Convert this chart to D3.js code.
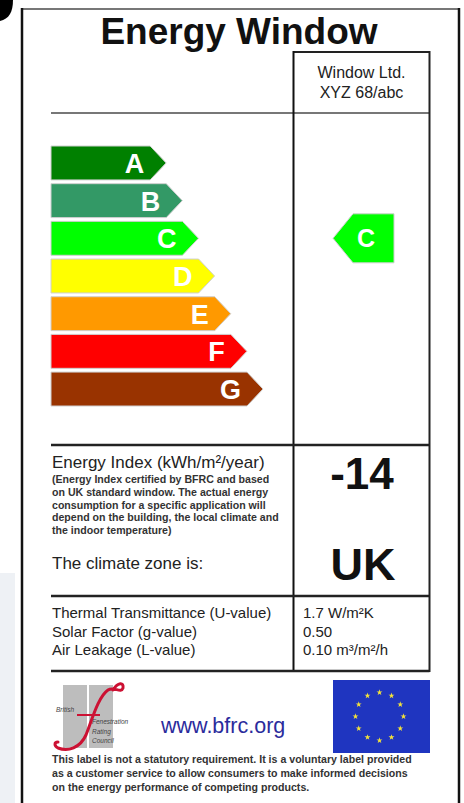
<!DOCTYPE html>
<html>
<head>
<meta charset="utf-8">
<script src="https://cdn.jsdelivr.net/npm/d3@7"></script>
<style>
  html, body { margin: 0; padding: 0; background: #ffffff; }
  svg { display: block; }
  text { font-family: "Liberation Sans", Arial, Helvetica, sans-serif; }
</style>
</head>
<body>
<div id="chart"></div>
<script>
// ---------- data ----------
const title = "Energy Window";
const manufacturer = ["Window Ltd.", "XYZ 68/abc"];
const categories = ["A", "B", "C", "D", "E", "F", "G"];
const barColors = ["#008000", "#339966", "#00ff00", "#ffff00", "#ff9900", "#ff0000", "#993300"];
const barSteps = [1, 2, 3, 4, 5, 6, 7];
const rating = "C";
const energyIndex = -14;
const climateZone = "UK";
const indexLabel = "Energy Index (kWh/m²/year)";
const indexNote = [
  "(Energy Index certified by BFRC and based",
  "on UK standard window. The actual energy",
  "consumption for a specific application will",
  "depend on the building, the local climate and",
  "the indoor temperature)"
];
const climateLabel = "The climate zone is:";
const propertyLabels = ["Thermal Transmittance (U-value)", "Solar Factor (g-value)", "Air Leakage (L-value)"];
const propertyValues = ["1.7 W/m²K", "0.50", "0.10 m³/m²/h"];
const website = "www.bfrc.org";
const logoWords = ["British", "Fenestration", "Rating", "Council"];
const disclaimer = [
  "This label is not a statutory requirement. It is a voluntary label provided",
  "as a customer service to allow consumers to make informed decisions",
  "on the energy performance of competing products."
];

// ---------- drawing ----------
const W = 464, H = 803;
const svg = d3.select("#chart").append("svg").attr("width", W).attr("height", H);
svg.append("rect").attr("width", W).attr("height", H).attr("fill", "#ffffff");

// stray decorations at the edges of the photo
svg.append("rect").attr("x", 0).attr("y", 573).attr("width", 15).attr("height", 230).attr("fill", "#eef1f5");
svg.append("path").attr("d", "M0,0 H13 C13,12 9,19 0,21 Z").attr("fill", "#000");

// outer frame
svg.append("line").attr("x1", 21).attr("x2", 460).attr("y1", 9).attr("y2", 9).attr("stroke", "#777").attr("stroke-width", 2);
svg.append("line").attr("x1", 22).attr("x2", 22).attr("y1", 8).attr("y2", H).attr("stroke", "#111").attr("stroke-width", 2.5);
svg.append("line").attr("x1", 459).attr("x2", 459).attr("y1", 8).attr("y2", H).attr("stroke", "#111").attr("stroke-width", 2.5);

// title
svg.append("text").attr("x", 239).attr("y", 44).attr("text-anchor", "middle")
  .attr("font-size", 37).attr("font-weight", "bold").attr("fill", "#111").text(title);

// grid lines of label
const colL = 51, colM = 293.5, colR = 429.5;
svg.append("line").attr("x1", colL).attr("x2", colR).attr("y1", 113).attr("y2", 113).attr("stroke", "#777").attr("stroke-width", 2);
svg.append("line").attr("x1", colM).attr("x2", colR).attr("y1", 52).attr("y2", 52).attr("stroke", "#222").attr("stroke-width", 2);
svg.append("line").attr("x1", colM).attr("x2", colM).attr("y1", 51).attr("y2", 672).attr("stroke", "#111").attr("stroke-width", 2);
svg.append("line").attr("x1", colR).attr("x2", colR).attr("y1", 51).attr("y2", 672).attr("stroke", "#222").attr("stroke-width", 2);
[445, 596, 671].forEach(yy => {
  svg.append("line").attr("x1", colL).attr("x2", colR).attr("y1", yy).attr("y2", yy).attr("stroke", "#222").attr("stroke-width", 2.5);
});

// manufacturer
svg.selectAll("text.manu").data(manufacturer).join("text").attr("class", "manu")
  .attr("x", (colM + colR) / 2).attr("y", (d, i) => 78 + i * 20).attr("text-anchor", "middle")
  .attr("font-size", 16).attr("fill", "#222").text(d => d);

// rating bars
const y = d3.scaleBand().domain(categories).range([146, 406]).paddingInner(0.1);
const x = d3.scaleLinear().domain([0, 7]).range([150, 263]);
const tip = 16;
const bars = svg.append("g");
bars.selectAll("path").data(categories).join("path")
  .attr("d", (c, i) => {
    const y0 = y(c), y1 = y0 + y.bandwidth(), ym = (y0 + y1) / 2, xe = x(barSteps[i]);
    return `M${colL},${y0} H${xe - tip} L${xe},${ym} L${xe - tip},${y1} H${colL} Z`;
  })
  .attr("fill", (c, i) => barColors[i]).attr("stroke", "#cfcfcf").attr("stroke-width", 1);
bars.selectAll("text").data(categories).join("text")
  .attr("x", (c, i) => x(barSteps[i]) - tip - 6)
  .attr("y", c => y(c) + y.bandwidth() / 2 + 10)
  .attr("text-anchor", "end").attr("font-size", 27).attr("font-weight", "bold").attr("fill", "#fff")
  .text(c => c);

// rating arrow
const ri = categories.indexOf(rating);
const rc = y(rating) + y.bandwidth() / 2, rh = 49;
svg.append("path")
  .attr("d", `M333,${rc} L353,${rc - rh / 2} H394 V${rc + rh / 2} H353 Z`)
  .attr("fill", barColors[ri]).attr("stroke", "#cfcfcf").attr("stroke-width", 1);
svg.append("text").attr("x", 366).attr("y", rc + 9).attr("text-anchor", "middle")
  .attr("font-size", 25).attr("font-weight", "bold").attr("fill", "#fff").text(rating);

// energy index section
svg.append("text").attr("x", 52).attr("y", 468).attr("font-size", 17).attr("fill", "#222").text(indexLabel);
svg.selectAll("text.note").data(indexNote).join("text").attr("class", "note")
  .attr("x", 52).attr("y", (d, i) => 483 + i * 12.8).attr("font-size", 10.6).attr("font-weight", "bold")
  .attr("fill", "#333").text(d => d);
svg.append("text").attr("x", 52).attr("y", 569).attr("font-size", 17).attr("fill", "#222").text(climateLabel);
svg.append("text").attr("x", 362).attr("y", 489).attr("text-anchor", "middle").attr("font-size", 44)
  .attr("font-weight", "bold").attr("fill", "#111").text(d3.format("d")(energyIndex).replace("−", "-"));
svg.append("text").attr("x", 363).attr("y", 580).attr("text-anchor", "middle").attr("font-size", 45)
  .attr("font-weight", "bold").attr("fill", "#111").text(climateZone);

// properties
svg.selectAll("text.plab").data(propertyLabels).join("text").attr("class", "plab")
  .attr("x", 52).attr("y", (d, i) => 618 + i * 18.7).attr("font-size", 15).attr("fill", "#222").text(d => d);
svg.selectAll("text.pval").data(propertyValues).join("text").attr("class", "pval")
  .attr("x", 303).attr("y", (d, i) => 618 + i * 18.7).attr("font-size", 15).attr("fill", "#222").text(d => d);

// BFRC logo
const logo = svg.append("g");
logo.append("rect").attr("x", 63).attr("y", 685).attr("width", 24).attr("height", 63).attr("fill", "#bdbdbd");
logo.append("rect").attr("x", 89).attr("y", 685).attr("width", 24).attr("height", 63).attr("fill", "#bdbdbd");
logo.append("path")
  .attr("d", "M113,690 C118,682 124,682 123,688 C121,694 114,686 108,690 C98,697 92,720 86,735 C80,748 68,752 58,748 C54,746 54,742 58,742")
  .attr("fill", "none").attr("stroke", "#cc1133").attr("stroke-width", 3).attr("stroke-linecap", "round");
logo.append("line").attr("x1", 77).attr("x2", 100).attr("y1", 715).attr("y2", 715).attr("stroke", "#cc1133").attr("stroke-width", 2);
logo.append("text").attr("x", 56).attr("y", 712).attr("font-size", 6.5).attr("font-style", "italic").attr("fill", "#444").text(logoWords[0]);
logoWords.slice(1).forEach((w, i) => {
  logo.append("text").attr("x", 92).attr("y", 724 + i * 9.5).attr("font-size", 6.5).attr("font-style", "italic").attr("fill", "#444").text(w);
});

// website
svg.append("text").attr("x", 161).attr("y", 733).attr("font-size", 21.5).attr("fill", "#2b2b9c").text(website);

// EU flag
const flag = svg.append("g");
flag.append("rect").attr("x", 333).attr("y", 680).attr("width", 97).attr("height", 73).attr("fill", "#1f35c0");
const starAngles = d3.range(12);
flag.selectAll("path").data(starAngles).join("path")
  .attr("d", d3.symbol().type(d3.symbolStar).size(11))
  .attr("transform", k => {
    const a = k / 12 * 2 * Math.PI;
    return `translate(${379.5 + 24 * Math.sin(a)},${716.5 - 24 * Math.cos(a)})`;
  })
  .attr("fill", "#f3e23a");

// disclaimer
svg.selectAll("text.disc").data(disclaimer).join("text").attr("class", "disc")
  .attr("x", 52).attr("y", (d, i) => 763 + i * 14).attr("font-size", 10.6).attr("font-weight", "bold")
  .attr("fill", "#333").text(d => d);
</script>
</body>
</html>
